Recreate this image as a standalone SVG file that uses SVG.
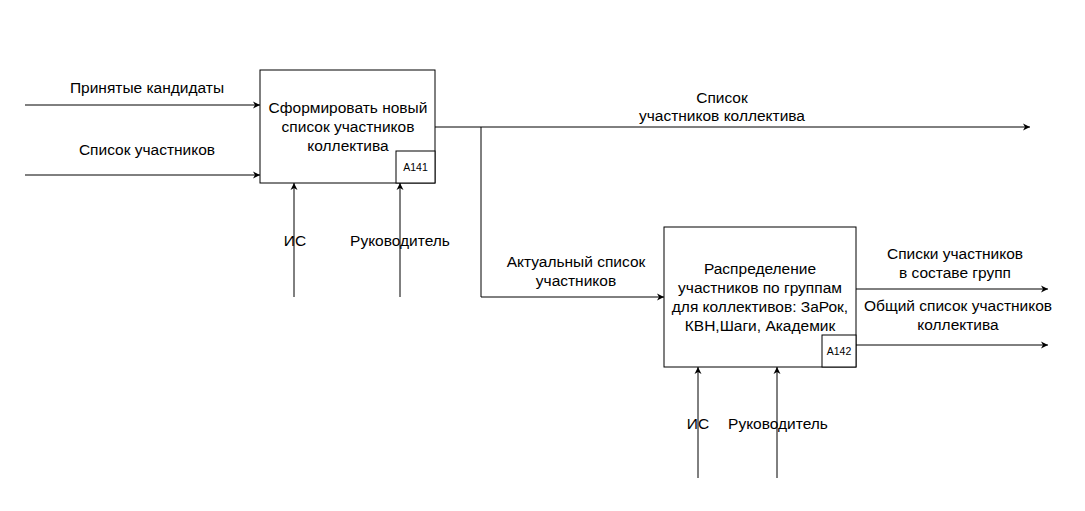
<svg xmlns="http://www.w3.org/2000/svg" width="1085" height="511" viewBox="0 0 1085 511">
<style>
.box{fill:#fff;stroke:#000;stroke-width:1}
.ln{fill:none;stroke:#000;stroke-width:1}
text{font-family:"Liberation Sans",Arial,sans-serif;font-size:15.5px;fill:#000;text-anchor:middle}
.tag{font-size:10.5px}
</style>
<defs>
<marker id="arr" markerWidth="8" markerHeight="8" refX="7" refY="4" orient="auto" markerUnits="userSpaceOnUse">
<path d="M0,0.5 L7,4 L0,7.5 L2,4 Z" fill="#000"/>
</marker>
</defs>
<rect width="1085" height="511" fill="#fff"/>
<g id="connectors">
<path class="ln" d="M25,105 H260" marker-end="url(#arr)"/>
<path class="ln" d="M25,175 H260" marker-end="url(#arr)"/>
<path class="ln" d="M435,127 H1030" marker-end="url(#arr)"/>
<path class="ln" d="M481,127 V297 H664" marker-end="url(#arr)"/>
<path class="ln" d="M294,297 V183" marker-end="url(#arr)"/>
<path class="ln" d="M400,297 V183" marker-end="url(#arr)"/>
<path class="ln" d="M856,289 H1048" marker-end="url(#arr)"/>
<path class="ln" d="M856,345 H1048" marker-end="url(#arr)"/>
<path class="ln" d="M698,478 V367" marker-end="url(#arr)"/>
<path class="ln" d="M777,478 V367" marker-end="url(#arr)"/>
<text x="147" y="93">Принятые кандидаты</text>
<text x="147" y="155">Список участников</text>
<text x="722" y="103">Список</text>
<text x="722" y="121">участников коллектива</text>
<text x="576" y="267">Актуальный список</text>
<text x="576" y="286">участников</text>
<text x="295" y="246">ИС</text>
<text x="400" y="246">Руководитель</text>
<text x="955" y="259">Списки участников</text>
<text x="955" y="278">в составе групп</text>
<text x="958" y="311">Общий список участников</text>
<text x="958" y="330">коллектива</text>
<text x="698" y="429">ИС</text>
<text x="778" y="429">Руководитель</text>
</g>
<g id="node-a141">
<rect class="box" x="260" y="70" width="175" height="113"/>
<rect class="box" x="396" y="151" width="39" height="32"/>
<text x="348" y="113">Сформировать новый</text>
<text x="348" y="132">список участников</text>
<text x="348" y="151">коллектива</text>
<text class="tag" x="415.5" y="171">A141</text>
</g>
<g id="node-a142">
<rect class="box" x="664" y="227" width="192" height="140"/>
<rect class="box" x="822" y="335" width="34" height="32"/>
<text x="760" y="274">Распределение</text>
<text x="760" y="293">участников по группам</text>
<text x="760" y="312">для коллективов: ЗаРок,</text>
<text x="760" y="331">КВН,Шаги, Академик</text>
<text class="tag" x="839" y="355">A142</text>
</g>
</svg>
